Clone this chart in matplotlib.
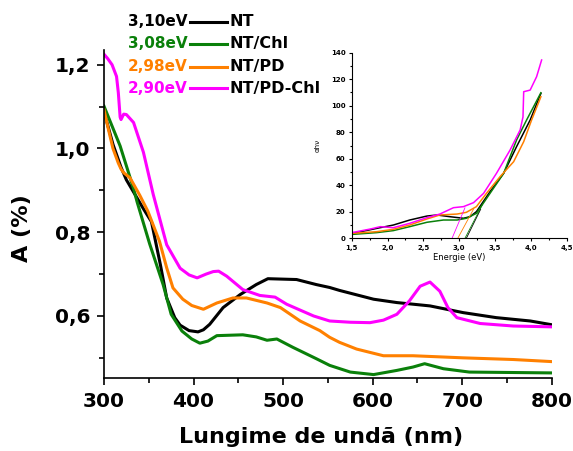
import matplotlib
matplotlib.use('Agg')
import matplotlib.pyplot as plt
from matplotlib.ticker import MultipleLocator, FuncFormatter

plt.rcParams['font.family'] = ['DejaVu Sans']

# ── colours ──
BLACK = '#000000'
GREEN = '#0A800A'
ORANGE = '#FF8000'
MAGENTA = '#FF00FF'

# ── main spectrum: absorbance vs wavelength ──
nt_x = [300, 310, 319, 325, 344, 353, 363, 370, 379, 385, 395, 405, 411, 418, 433, 452,
        470, 483, 515, 537, 552, 563, 601, 627, 664, 701, 738, 776, 800]
nt_y = [1.088, 1.010, 0.955, 0.925, 0.856, 0.825, 0.722, 0.643, 0.596, 0.578, 0.565,
        0.562, 0.567, 0.580, 0.620, 0.651, 0.675, 0.689, 0.687, 0.675, 0.668, 0.661,
        0.640, 0.632, 0.624, 0.608, 0.596, 0.588, 0.579]

chl_x = [300, 318, 333, 337, 351, 366, 375, 387, 398, 407, 416, 426, 455, 470, 482,
         493, 511, 537, 552, 575, 601, 627, 645, 658, 679, 708, 800]
chl_y = [1.101, 1.006, 0.904, 0.872, 0.772, 0.675, 0.604, 0.564, 0.545, 0.535, 0.540,
         0.553, 0.555, 0.550, 0.542, 0.545, 0.525, 0.498, 0.482, 0.466, 0.460, 0.470,
         0.478, 0.486, 0.474, 0.466, 0.464]

pd_x = [300, 305, 310, 316, 319, 322, 329, 340, 349, 362, 370, 377, 388, 398, 411, 426,
        444, 459, 482, 497, 519, 541, 552, 563, 582, 612, 645, 701, 757, 800]
pd_y = [1.092, 1.045, 1.000, 0.965, 0.951, 0.942, 0.930, 0.888, 0.850, 0.778, 0.715,
        0.667, 0.640, 0.625, 0.616, 0.631, 0.643, 0.643, 0.631, 0.620, 0.588, 0.565,
        0.549, 0.537, 0.521, 0.505, 0.505, 0.500, 0.496, 0.491]

pdchl_x = [300, 304, 309, 314, 316, 318, 319, 322, 325, 333, 344, 355, 370, 385, 395,
           404, 414, 422, 428, 437, 455, 474, 491, 504, 534, 552, 575, 597, 612, 627,
           641, 653, 664, 675, 684, 694, 720, 757, 800]
pdchl_y = [1.225, 1.215, 1.200, 1.172, 1.133, 1.075, 1.069, 1.082, 1.081, 1.062, 0.991,
           0.890, 0.770, 0.714, 0.698, 0.691, 0.700, 0.706, 0.707, 0.695, 0.663, 0.649,
           0.645, 0.628, 0.600, 0.588, 0.585, 0.584, 0.590, 0.604, 0.636, 0.671, 0.681,
           0.659, 0.620, 0.596, 0.582, 0.576, 0.574]

# ── inset: Tauc plot (alpha h nu vs energy) ──
nt_e = [1.52, 1.85, 2.08, 2.31, 2.55, 2.69, 2.87, 3.06, 3.15, 3.24, 3.43, 3.62, 3.80, 3.99, 4.14]
nt_a = [3.8, 7.5, 10.0, 13.8, 16.8, 17.6, 16.3, 15.1, 16.3, 20.1, 35.2, 49.0, 69.1, 89.2, 109.3]

chl_e = [1.52, 1.85, 2.08, 2.31, 2.55, 2.78, 2.97, 3.10, 3.24, 3.43, 3.62, 3.80, 3.94, 4.14]
chl_a = [3.0, 4.3, 5.8, 8.8, 12.1, 13.8, 13.8, 15.1, 18.8, 33.9, 49.0, 74.1, 89.2, 109.8]

pd_e = [1.52, 1.85, 2.08, 2.31, 2.55, 2.73, 2.97, 3.10, 3.24, 3.38, 3.57, 3.76, 3.90, 4.01, 4.14]
pd_a = [3.8, 5.0, 6.8, 10.0, 14.6, 17.6, 18.3, 19.6, 23.9, 33.9, 46.5, 57.8, 72.9, 89.2, 106.8]

pdchl_e = [1.52, 1.76, 1.90, 2.08, 2.31, 2.55, 2.73, 2.92, 3.06, 3.20, 3.34, 3.52, 3.71,
           3.85, 3.89, 3.90, 3.99, 4.08, 4.15]
pdchl_a = [4.5, 7.0, 8.8, 8.0, 11.3, 15.6, 18.3, 23.1, 23.9, 26.9, 33.9, 49.0, 66.6,
           81.7, 91.5, 110.6, 111.8, 121.9, 134.5]

# band gap tangents (start at Eg on the x axis)
gap_e0 = [3.10, 3.08, 2.98, 2.90]
gap_e1 = [3.30, 3.32, 3.20, 3.08]
gap_a1 = [22, 25, 22, 23]

gap_labels = ['3,10eV', '3,08eV', '2,98eV', '2,90eV']
names = ['NT', 'NT/Chl', 'NT/PD', 'NT/PD-Chl']
colors = [BLACK, GREEN, ORANGE, MAGENTA]

main_series = [(nt_x, nt_y), (chl_x, chl_y), (pd_x, pd_y), (pdchl_x, pdchl_y)]
inset_series = [(nt_e, nt_a), (chl_e, chl_a), (pd_e, pd_a), (pdchl_e, pdchl_a)]

comma = FuncFormatter(lambda v, p: f'{v:.1f}'.replace('.', ','))

fig = plt.figure(figsize=(5.73, 4.51), dpi=100)
ax = fig.add_axes([0.1815, 0.162, 0.7815, 0.727])

for (x, y), c in zip(main_series, colors):
    ax.plot(x, y, color=c, linewidth=2.2, solid_joinstyle='round')

ax.set_xlim(300, 800)
ax.set_ylim(0.452, 1.235)
ax.xaxis.set_major_locator(MultipleLocator(100))
ax.xaxis.set_minor_locator(MultipleLocator(50))
ax.yaxis.set_major_locator(MultipleLocator(0.2))
ax.yaxis.set_minor_locator(MultipleLocator(0.1))
ax.yaxis.set_major_formatter(comma)
ax.tick_params(which='major', direction='out', length=5, width=1.2, labelsize=14.5, pad=5)
ax.tick_params(which='minor', direction='out', length=3.5, width=1.2)
for lab in ax.get_xticklabels() + ax.get_yticklabels():
    lab.set_fontweight('bold')
ax.spines['top'].set_visible(False)
ax.spines['right'].set_visible(False)
ax.spines['left'].set_linewidth(1.2)
ax.spines['bottom'].set_linewidth(1.2)
ax.set_xlabel('Lungime de undã (nm)', fontsize=16, fontweight='bold')
ax.set_ylabel('A (%)', fontsize=16, fontweight='bold')
ax.xaxis.set_label_coords(0.4855, -0.15)
ax.yaxis.set_label_coords(-0.16, 0.457)

# legend drawn by hand: gap value, line sample, sample name
row_y = [0.9523, 0.9035, 0.8525, 0.8038]
for yy, g, n, c in zip(row_y, gap_labels, names, colors):
    fig.text(0.327, yy, g, color=c, fontsize=11, fontweight='bold', ha='right', va='center')
    fig.add_artist(plt.Line2D([0.331, 0.397], [yy, yy], color=c, linewidth=2.2,
                              transform=fig.transFigure))
    fig.text(0.401, yy, n, color=BLACK, fontsize=11.5, fontweight='bold', ha='left', va='center')

# inset
ins = fig.add_axes([0.6138, 0.4716, 0.3752, 0.4115])
for (e, a), c in zip(inset_series, colors):
    ins.plot(e, a, color=c, linewidth=1.1)
for e0, e1, a1, c in zip(gap_e0, gap_e1, gap_a1, colors):
    ins.plot([e0, e1], [0, a1], color=c, linewidth=0.6)

ins.set_xlim(1.5, 4.5)
ins.set_ylim(0, 140)
ins.xaxis.set_major_locator(MultipleLocator(0.5))
ins.xaxis.set_minor_locator(MultipleLocator(0.25))
ins.yaxis.set_major_locator(MultipleLocator(20))
ins.yaxis.set_minor_locator(MultipleLocator(10))
ins.xaxis.set_major_formatter(comma)
ins.tick_params(which='major', direction='out', length=2, width=0.8, labelsize=5, pad=2.5)
ins.tick_params(which='minor', direction='out', length=1.3, width=0.8)
for lab in ins.get_xticklabels() + ins.get_yticklabels():
    lab.set_fontweight('bold')
ins.spines['top'].set_visible(False)
ins.spines['right'].set_visible(False)
ins.set_facecolor('none')
ins.set_xlabel('Energie (eV)', fontsize=6, labelpad=2)
ins.set_ylabel('αhν', fontsize=5, labelpad=7)

fig.savefig('out.png', dpi=100)
